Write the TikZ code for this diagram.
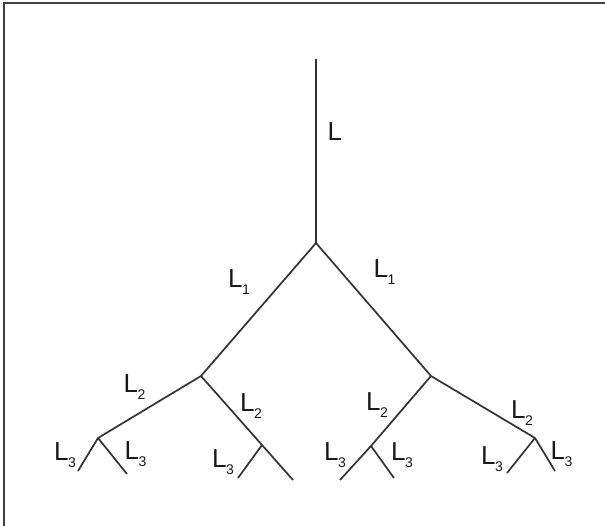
\documentclass[tikz,border=0pt]{standalone}
\usepackage{fontspec}
\setmainfont{Liberation Sans}
\newcommand{\Lsub}[1]{L\kern-0.5pt\raisebox{-7pt}{\fontsize{14}{14}\selectfont #1}}

\begin{document}
\begin{tikzpicture}[x=1pt,y=-1pt,
 br/.style={line width=1.7pt,draw=black!80},
 lbl/.style={anchor=base west,inner sep=0pt,text=black!90,font=\fontsize{26}{26}\selectfont}]
\useasboundingbox (0,0) rectangle (605,526);
\draw[line width=1.5pt,black!75] (4,526) -- (4,3) -- (605,3);
% branch points
\coordinate (top) at (316,59);
\coordinate (a) at (316,243);
\coordinate (b1) at (201,376);
\coordinate (b2) at (431,376);
\coordinate (c1) at (98,438);
\coordinate (c2) at (262,445);
\coordinate (c3) at (371,446);
\coordinate (c4) at (535,438);
% tips
\coordinate (e1) at (78,471);
\coordinate (e2) at (127,474);
\coordinate (e3) at (238,478);
\coordinate (e4) at (293,480);
\coordinate (e5) at (340,480);
\coordinate (e6) at (394,478);
\coordinate (e7) at (507,473);
\coordinate (e8) at (555,471);
\draw[br] (top)--(a) (a)--(b1) (a)--(b2) (b1)--(c1) (b1)--(c2) (b2)--(c3) (b2)--(c4)
 (c1)--(e1) (c1)--(e2) (c2)--(e3) (c2)--(e4) (c3)--(e5) (c3)--(e6) (c4)--(e7) (c4)--(e8);
% labels
\node[lbl] (l0) at (327.5,141) {L};
\foreach \nm/\s/\x/\y in {l1a/1/228/288, l1b/1/373.5/278,
 l2a/2/123.5/392, l2b/2/240/411.5, l2c/2/366/410.5, l2d/2/511/418.5,
 l3a/3/54/460, l3b/3/124.5/459, l3c/3/212/467, l3d/3/324/460.5,
 l3e/3/391/460, l3f/3/481/464, l3g/3/550.5/459.5}
 {\node[lbl] (\nm) at (\x,\y) {\Lsub{\s}};}
\end{tikzpicture}
\end{document}
